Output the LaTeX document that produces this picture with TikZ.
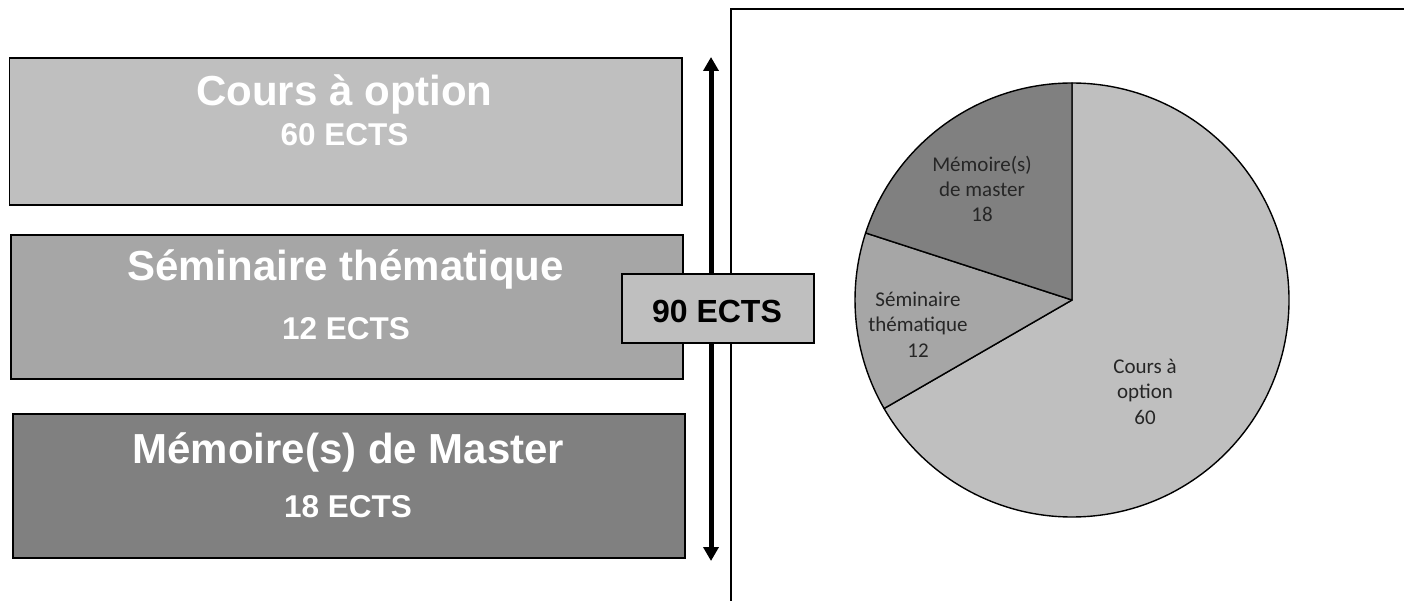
\documentclass[tikz,border=0pt]{standalone}
\usepackage{fontspec}
\setmainfont{Liberation Sans}
\newfontfamily\pief{Carlito}
\usetikzlibrary{arrows.meta}
\definecolor{gA}{HTML}{BFBFBF}
\definecolor{gB}{HTML}{A6A6A6}
\definecolor{gC}{HTML}{808080}
\tikzset{
  boxst/.style={draw=black, line width=1.6pt, inner sep=0pt, anchor=north west},
  bigt/.style={anchor=base, text=white, font=\bfseries\fontsize{42}{50}\selectfont, inner sep=0pt},
  smallt/.style={anchor=base, text=white, font=\bfseries\fontsize{31.5}{38}\selectfont, inner sep=0pt},
  piet/.style={anchor=base, text=black!85, font=\pief\fontsize{21}{25}\selectfont, inner sep=0pt},
  slice/.style={draw=black, line width=1.4pt, line join=round},
}
\begin{document}
\begin{tikzpicture}[x=1pt,y=-1pt]
\useasboundingbox (0,0) rectangle (1404,601);
% left boxes
\node[boxst, fill=gA, minimum width=672.5pt, minimum height=147pt] (b1) at (8.5,57) {};
\node[boxst, fill=gB, minimum width=672pt, minimum height=144pt] (b2) at (10,234) {};
\node[boxst, fill=gC, minimum width=672pt, minimum height=144pt] (b3) at (12,413) {};
\node[bigt] (t1) at (344.5,106) {Cours à option};
\node[smallt] (s1) at (344.5,146) {60 ECTS};
\node[bigt] (t2) at (345.5,280) {Séminaire thématique};
\node[smallt] (s2) at (346,339) {12 ECTS};
\node[bigt] (t3) at (348.5,463) {Mémoire(s) de Master};
\node[smallt] (s3) at (348,517) {18 ECTS};
% double arrow
\coordinate (atop) at (711,57);
\coordinate (abot) at (711,561);
\draw[line width=5pt, {Triangle[width=15pt,length=14pt]}-{Triangle[width=15pt,length=14pt]}] (atop) -- (abot);
% chart frame
\coordinate (fbl) at (731,603);
\coordinate (ftl) at (731,9);
\coordinate (ftr) at (1406,9);
\draw[line width=1.4pt] (fbl) -- (ftl) -- (ftr);
% total box
\node[boxst, fill=gA, minimum width=192pt, minimum height=69pt] (tot) at (621,273) {};
\node[anchor=base, inner sep=0pt, font=\bfseries\fontsize{32}{38}\selectfont] (tott) at (717,322) {90 ECTS};
% pie
\coordinate (pc) at (1072,300);
\draw[slice, fill=gA] (pc) -- ++(-90:217) arc[start angle=-90, end angle=150, radius=217] -- cycle;
\draw[slice, fill=gB] (pc) -- ++(150:217) arc[start angle=150, end angle=198, radius=217] -- cycle;
\draw[slice, fill=gC] (pc) -- ++(198:217) arc[start angle=198, end angle=270, radius=217] -- cycle;
\node[piet] (m1) at (982,172) {Mémoire(s)};
\node[piet] (m2) at (982,197) {de master};
\node[piet] (m3) at (982,222) {18};
\node[piet] (e1) at (918,306) {Séminaire};
\node[piet] (e2) at (918,331.5) {thématique};
\node[piet] (e3) at (918,357.5) {12};
\node[piet] (c1) at (1145,373) {Cours à};
\node[piet] (c2) at (1145,398) {option};
\node[piet] (c3) at (1145,424.5) {60};
\end{tikzpicture}
\end{document}
